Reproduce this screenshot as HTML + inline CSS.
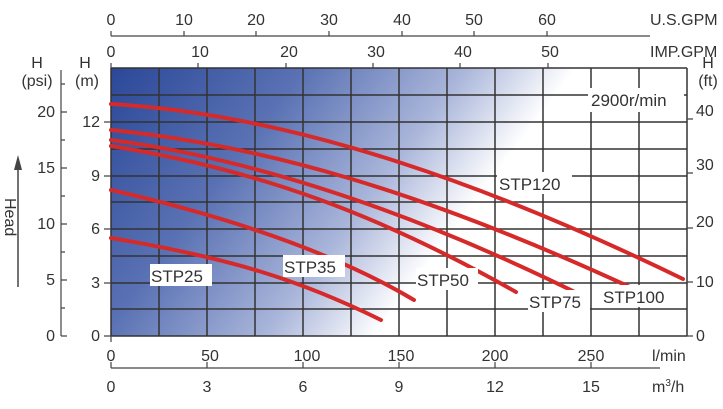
<!DOCTYPE html>
<html><head><meta charset="utf-8"><style>
body{margin:0;background:#fff}
svg text{font-family:"Liberation Sans",sans-serif;fill:#333}
</style></head><body>
<svg width="723" height="404" viewBox="0 0 723 404" xmlns="http://www.w3.org/2000/svg">
<defs>
<linearGradient id="g" x1="0" y1="0" x2="1" y2="0.35">
<stop offset="0" stop-color="#2b4898"/>
<stop offset="0.3" stop-color="#5a72b4"/>
<stop offset="0.55" stop-color="#aab6da"/>
<stop offset="0.72" stop-color="#ffffff"/>
</linearGradient>
</defs>
<rect x="111" y="68" width="576" height="268" fill="url(#g)"/>
<g stroke="#333" stroke-width="1.5">
<path d="M111 68V336M159 68V336M207 68V336M255 68V336M303 68V336M351 68V336M399 68V336M447 68V336M495 68V336M543 68V336M591 68V336M639 68V336M687 68V336"/>
<path d="M111 68H687M111 95H687M111 122H687M111 149H687M111 176H687M111 202H687M111 229H687M111 256H687M111 283H687M111 309H687M111 336H687"/>
</g>
<g stroke="#444" stroke-width="1.2" fill="none">
<path d="M111 36H650M111 36v-5M184 36v-5M256 36v-5M329 36v-5M402 36v-5M474 36v-5M547 36v-5"/>
<path d="M111 68v-5M198 68v-5M286 68v-5M373 68v-5M460 68v-5M548 68v-5"/>
<path d="M61 70V336M61 336h6M61 280h6M61 224h6M61 168h6M61 112h6M61 308h4M61 252h4M61 196h4M61 140h4M61 84h4"/>
<path d="M104 336h7M104 283h7M104 229h7M104 176h7M104 122h7"/>
<path d="M687 336h6M687 282h6M687 228h6M687 173h6M687 119h6"/>
<path d="M111 368H660M111 368v-6M207 368v-6M303 368v-6M399 368v-6M495 368v-6M591 368v-6"/>
<path d="M111 336v6"/>
</g>
<path d="M18 287V165" stroke="#444" stroke-width="1.5"/>
<path d="M14 170L18 155L22 170Z" fill="#444"/>
<text transform="translate(5,198) rotate(90)" font-size="16">Head</text>
<g font-size="16" text-anchor="middle">
<text x="111" y="25">0</text><text x="184" y="25">10</text><text x="256" y="25">20</text><text x="329" y="25">30</text><text x="402" y="25">40</text><text x="474" y="25">50</text><text x="547" y="25">60</text>
<text x="111" y="57">0</text><text x="200" y="57">10</text><text x="289" y="57">20</text><text x="376" y="57">30</text><text x="463" y="57">40</text><text x="550" y="57">50</text>
<text x="111" y="361">0</text><text x="210" y="361">50</text><text x="307" y="361">100</text><text x="401" y="361">150</text><text x="495" y="361">200</text><text x="591" y="361">250</text>
<text x="111" y="392">0</text><text x="207" y="392">3</text><text x="303" y="392">6</text><text x="399" y="392">9</text><text x="495" y="392">12</text><text x="591" y="392">15</text>
<text x="37" y="68">H</text><text x="37" y="86">(psi)</text>
<text x="85" y="68">H</text><text x="87" y="86">(m)</text>
<text x="708" y="68">H</text><text x="708" y="86">(ft)</text>
</g>
<g font-size="16" text-anchor="end">
<text x="55" y="117">20</text><text x="55" y="173">15</text><text x="55" y="229">10</text><text x="55" y="285">5</text><text x="55" y="341">0</text>
<text x="100" y="127">12</text><text x="100" y="181">9</text><text x="100" y="234">6</text><text x="100" y="288">3</text><text x="100" y="341">0</text>
</g>
<g font-size="16">
<text x="696" y="116">40</text><text x="696" y="170">30</text><text x="696" y="227">20</text><text x="696" y="287">10</text><text x="696" y="341">0</text>
<text x="650" y="25">U.S.GPM</text><text x="650" y="57">IMP.GPM</text>
<text x="652" y="361">l/min</text>
<text x="652" y="392">m<tspan font-size="10" dy="-6">3</tspan><tspan dy="6">/h</tspan></text>
</g>
<g stroke="#d62a2a" stroke-width="4" fill="none" stroke-linecap="round">
<path d="M111 104C300 115 500 190 683 279"/>
<path d="M111 130C260 145 420 190 632 288"/>
<path d="M111 140C260 160 420 215 585 297"/>
<path d="M111 146C260 170 380 215 516 292"/>
<path d="M111 190C220 215 330 250 414 300"/>
<path d="M111 238C230 258 300 280 381 320"/>
</g>
<rect x="588" y="88" width="96" height="24" fill="#fff"/>
<g font-size="17">
<rect x="497" y="172" width="75" height="22" fill="#fff"/><text x="499" y="190">STP120</text>
<rect x="150" y="264" width="62" height="22" fill="#fff"/><text x="151" y="282">STP25</text>
<rect x="283" y="255" width="62" height="22" fill="#fff"/><text x="284" y="273">STP35</text>
<rect x="416" y="268" width="62" height="22" fill="#fff"/><text x="417" y="286">STP50</text>
<rect x="528" y="290" width="62" height="22" fill="#fff"/><text x="529" y="308">STP75</text>
<rect x="602" y="285" width="72" height="22" fill="#fff"/><text x="603" y="303">STP100</text>
<text x="591" y="106">2900r/min</text>
</g>
</svg>
</body></html>
